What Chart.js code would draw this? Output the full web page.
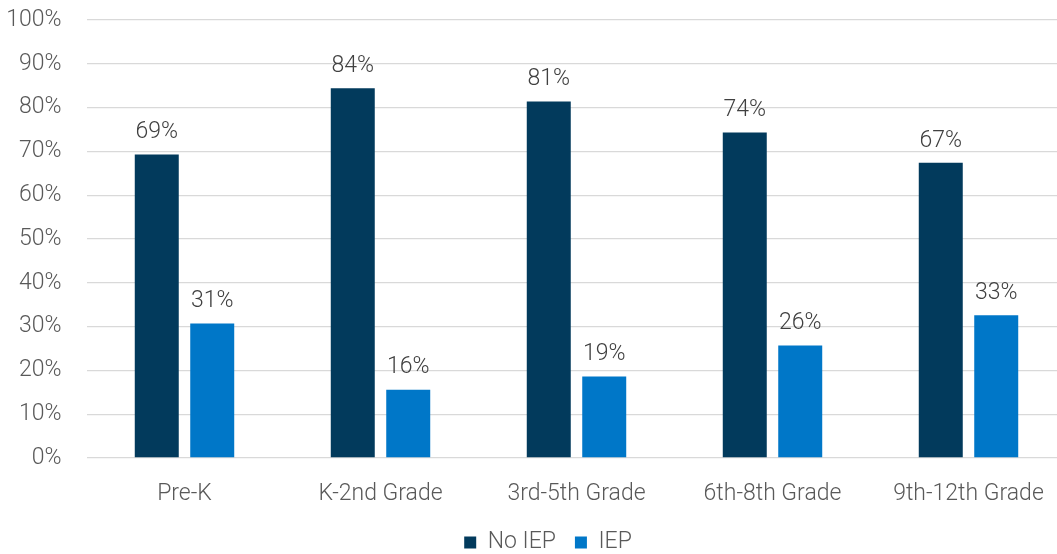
<!DOCTYPE html>
<html>
<head>
<meta charset="utf-8">
<script src="https://cdn.jsdelivr.net/npm/chart.js@4"></script>
<style>
  html, body { margin: 0; padding: 0; background: #fff; overflow: hidden; }
  #wrap { position: absolute; left: 0; top: 0; width: 1096px; height: 564px; }
</style>
</head>
<body>
<div id="wrap"><canvas id="chart" width="1096" height="564"></canvas></div>
<script>
const categories = ['Pre-K', 'K-2nd Grade', '3rd-5th Grade', '6th-8th Grade', '9th-12th Grade'];
const noIep = [69.3, 84.4, 81.4, 74.3, 67.4];
const iep = [30.7, 15.6, 18.6, 25.7, 32.6];
const yTicks = [0, 10, 20, 30, 40, 50, 60, 70, 80, 90, 100];

const FONT = 'Roboto, "Noto Sans", sans-serif';
const SIZE = 23;
const WEIGHT = 300;

// labels above each bar
const barLabels = {
    id: 'barLabels',
    afterDatasetsDraw(chart) {
        const ctx = chart.ctx;
        ctx.save();
        ctx.font = `${WEIGHT} ${SIZE}px ${FONT}`;
        ctx.fillStyle = '#404040';
        ctx.textAlign = 'center';
        ctx.textBaseline = 'middle';
        chart.data.datasets.forEach((ds, i) => {
            chart.getDatasetMeta(i).data.forEach((bar, j) => {
                ctx.fillText(Math.round(ds.data[j]) + '%', bar.x, bar.y - 22);
            });
        });
        ctx.restore();
    }
};

const font = { family: FONT, size: SIZE, weight: WEIGHT };

const ctx = document.getElementById('chart').getContext('2d');
new Chart(ctx, {
    type: 'bar',
    data: {
        labels: categories,
        datasets: [
            { label: 'No IEP', data: noIep, backgroundColor: '#023a5c', borderWidth: 0 },
            { label: 'IEP', data: iep, backgroundColor: '#0077c8', borderWidth: 0 }
        ]
    },
    options: {
        responsive: false,
        animation: false,
        devicePixelRatio: 1,
        categoryPercentage: 0.566,
        barPercentage: 0.793,
        layout: { padding: { top: 20 } },
        plugins: {
            tooltip: { enabled: false },
            legend: {
                position: 'bottom',
                labels: {
                    font: font,
                    color: '#595959',
                    boxWidth: 12,
                    boxHeight: 12,
                    padding: 19
                }
            }
        },
        scales: {
            x: {
                grid: { display: false, drawTicks: false },
                border: { display: false },
                ticks: { font: font, color: '#595959', padding: 22, maxRotation: 0 },
                afterFit: s => { s.height = 54; }
            },
            y: {
                min: 0,
                max: 100,
                afterBuildTicks: s => { s.ticks = yTicks.map(v => ({ value: v })); },
                grid: { color: '#d9d9d9', lineWidth: 1.3, drawTicks: false },
                border: { display: false },
                ticks: { font: font, color: '#595959', padding: 25, callback: v => v + '%' },
                afterFit: s => { s.width = 86.5; s.paddingTop = 0; s.paddingBottom = 0; }
            },
            pad: {
                position: 'right',
                grid: { display: false },
                border: { display: false },
                ticks: { display: false },
                afterFit: s => { s.width = 29.5; }
            }
        }
    },
    plugins: [barLabels]
});
</script>
</body>
</html>
